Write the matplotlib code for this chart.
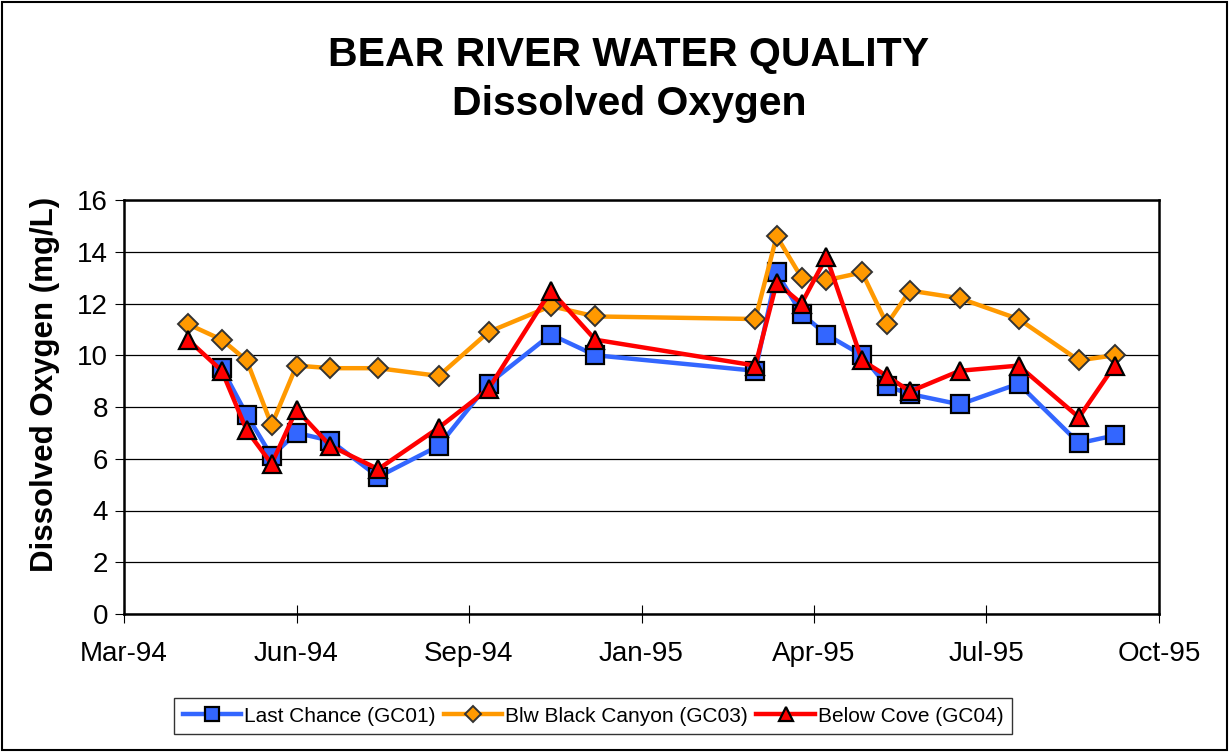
"""
Bear River: растворённый кислород (Dissolved Oxygen) по трём створам, 1994-1995.

Что делает скрипт:
- рисует три ряда наблюдений (GC01, GC03, GC04) линиями с маркерами
- сохраняет картинку out.png (~1229x752)

Запуск:
  python plot.py
"""

import matplotlib

matplotlib.use("Agg")

import matplotlib.dates as mdates
import matplotlib.pyplot as plt
import numpy as np
from matplotlib.patches import Rectangle

# ============================================================
# ДАННЫЕ (значения сняты с исходного графика)
# ============================================================

# Даты отбора проб для GC03 и GC04
SAMPLE_DATES = [
    "1994-04-21", "1994-05-10", "1994-05-24", "1994-06-07", "1994-06-21",
    "1994-07-10", "1994-08-06", "1994-09-09", "1994-10-07", "1994-11-11",
    "1994-12-06", "1995-03-06", "1995-03-18", "1995-04-01", "1995-04-15",
    "1995-05-05", "1995-05-19", "1995-06-01", "1995-06-29", "1995-08-01",
    "1995-09-04", "1995-09-24",
]

# GC01 начинается со второй даты
GC01_DATES = SAMPLE_DATES[1:]

GC01_DO = [9.5, 7.7, 6.1, 7.0, 6.7, 5.3, 6.5, 8.9, 10.8, 10.0,
           9.4, 13.2, 11.6, 10.8, 10.0, 8.8, 8.5, 8.1, 8.9, 6.6, 6.9]

GC03_DO = [11.2, 10.6, 9.8, 7.3, 9.6, 9.5, 9.5, 9.2, 10.9, 11.9, 11.5,
           11.4, 14.6, 13.0, 12.9, 13.2, 11.2, 12.5, 12.2, 11.4, 9.8, 10.0]

GC04_DO = [10.6, 9.4, 7.1, 5.8, 7.9, 6.5, 5.6, 7.2, 8.7, 12.5, 10.6,
           9.6, 12.8, 12.0, 13.8, 9.8, 9.2, 8.6, 9.4, 9.6, 7.6, 9.6]

SERIES_LABELS = ["Last Chance (GC01)", "Blw Black Canyon (GC03)", "Below Cove (GC04)"]

# Ось X: как в Excel — начало и шаг основных делений в днях
AXIS_START = "1994-03-16"
TICK_STEP_DAYS = 97
N_TICKS = 7

Y_MAX = 16
Y_STEP = 2

TITLE_1 = "BEAR RIVER WATER QUALITY"
TITLE_2 = "Dissolved Oxygen"
Y_LABEL = "Dissolved Oxygen (mg/L)"

FONT = "Liberation Sans"


def to_num(dates):
    """Строки дат -> числа matplotlib."""
    return mdates.date2num(np.array(dates, dtype="datetime64[D]"))


def main():
    plt.rcParams["font.family"] = [FONT, "DejaVu Sans"]

    fig = plt.figure(figsize=(12.29, 7.52), dpi=100)
    ax = fig.add_axes([124 / 1229, 1 - 614 / 752, (1159 - 124) / 1229, (614 - 200) / 752])

    # Excel рисует ряды по порядку: синий, оранжевый, красный
    ax.plot(to_num(GC01_DATES), GC01_DO, color="#3366FF", lw=3.2,
            marker="s", ms=12.5, mfc="#3366FF", mec="black", mew=1.6,
            label=SERIES_LABELS[0], zorder=3)
    ax.plot(to_num(SAMPLE_DATES), GC03_DO, color="#FF9900", lw=3.2,
            marker="D", ms=10.5, mfc="#FF9900", mec="#333333", mew=1.4,
            label=SERIES_LABELS[1], zorder=4)
    ax.plot(to_num(SAMPLE_DATES), GC04_DO, color="#FF0000", lw=3.2,
            marker="^", ms=13, mfc="#FF0000", mec="black", mew=1.6,
            label=SERIES_LABELS[2], zorder=5)

    start = np.datetime64(AXIS_START)
    ticks = start + np.arange(N_TICKS) * np.timedelta64(TICK_STEP_DAYS, "D")
    ticks_num = mdates.date2num(ticks)
    ax.set_xlim(ticks_num[0], ticks_num[-1])
    ax.set_xticks(ticks_num)
    ax.xaxis.set_major_formatter(mdates.DateFormatter("%b-%y"))

    ax.set_ylim(0, Y_MAX)
    ax.set_yticks(np.arange(0, Y_MAX + 1, Y_STEP))

    ax.yaxis.grid(True, color="black", lw=0.9)
    ax.set_axisbelow(True)

    for s in ax.spines.values():
        s.set_linewidth(1.8)
        s.set_color("black")

    ax.tick_params(axis="x", direction="inout", length=13, width=0.8,
                   labelsize=20, pad=13)
    ax.tick_params(axis="y", direction="out", length=6.5, width=0.8,
                   labelsize=20, pad=5)

    # Заголовок из двух строк
    fig.text(629 / 1229, 1 - 55 / 752, TITLE_1, ha="center", va="center",
             fontsize=29.5, fontweight="bold")
    fig.text(629 / 1229, 1 - 104 / 752, TITLE_2, ha="center", va="center",
             fontsize=29.5, fontweight="bold")

    fig.text(45 / 1229, 1 - 384 / 752, Y_LABEL, ha="center", va="center",
             rotation=90, fontsize=22.5, fontweight="bold")

    leg = fig.legend(loc="center", bbox_to_anchor=(593 / 1229, 1 - 716 / 752),
                     ncol=3, fontsize=15, frameon=True, fancybox=False,
                     edgecolor="black", handlelength=2.8, handletextpad=0.15,
                     columnspacing=0.4, borderpad=0.4, markerscale=0.75)
    leg.get_frame().set_linewidth(1.0)

    # Рамка вокруг всей области диаграммы
    fig.patches.append(Rectangle((0.002, 0.002), 0.996, 0.995, transform=fig.transFigure,
                                 fill=False, edgecolor="black", lw=1.5))

    fig.savefig("out.png", dpi=100)


if __name__ == "__main__":
    main()
